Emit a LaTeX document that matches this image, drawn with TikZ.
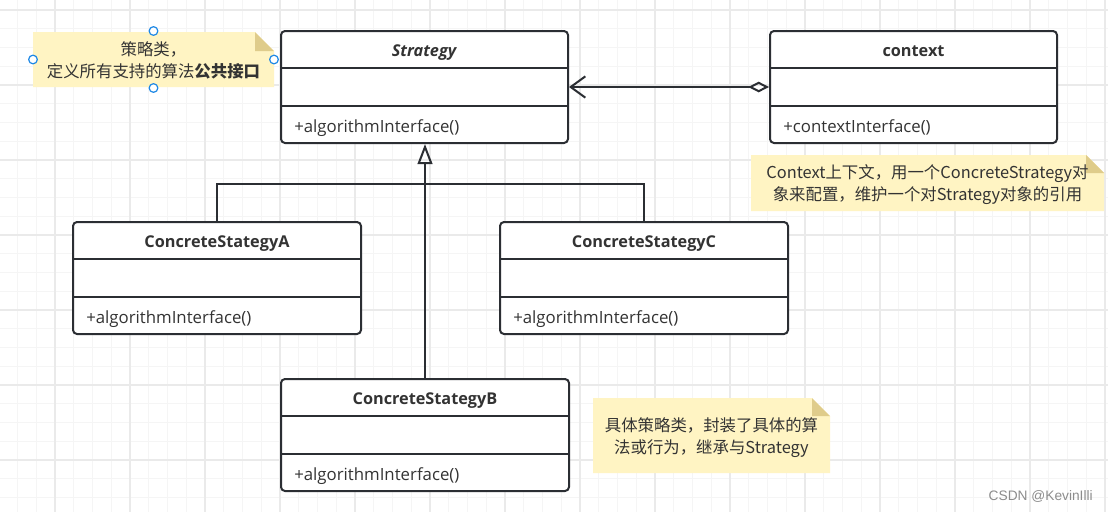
\documentclass[tikz,border=0pt]{standalone}
\usepackage{fontspec}
\setmainfont{Open Sans}
\newfontfamily\cjk{Noto Sans CJK SC}
\newfontfamily\wmfont{Liberation Sans}
\usetikzlibrary{arrows.meta,fit,calc}
\definecolor{ink}{HTML}{2B2E33}
\definecolor{txt}{HTML}{333333}
\definecolor{notefill}{HTML}{FFF4C3}
\definecolor{notefold}{HTML}{DFCC8B}
\definecolor{gridminor}{HTML}{F5F5F5}
\definecolor{gridmajor}{HTML}{EAEAEA}
\definecolor{handle}{HTML}{1E88E5}
\definecolor{wmgray}{HTML}{8C8C8C}
\tikzset{
  classbox/.style={draw=ink, line width=1.5pt, rounded corners=3pt, inner sep=0pt, fill=white},
  divider/.style={draw=ink, line width=1.5pt},
  classtitle/.style={font=\bfseries\fontsize{12.2}{14}\selectfont, text=txt, inner sep=0pt, anchor=base},
  method/.style={font=\fontsize{12.6}{14}\selectfont, text=txt, anchor=base west, inner sep=0pt},
  conn/.style={draw=ink, line width=1.5pt},
  notetext/.style={align=center, text=txt, font=\cjk\fontsize{12.3}{16}\selectfont, inner sep=0pt},
  handlec/.style={circle, draw=handle, fill=white, line width=0.9pt, minimum size=6.5pt, inner sep=0pt},
  minorline/.style={draw=gridminor, line width=0.75pt},
  majorline/.style={draw=gridmajor, line width=0.9pt},
}
% name, x1, y1, x2, title, method
\newcommand\umlclass[6]{%
  \node[classbox, fit={(#2,#3) (#4,#3+112)}] (#1) {};
  \draw[divider] ($(#1.north west)+(0,37.5)$) -- ($(#1.north east)+(0,37.5)$);
  \draw[divider] ($(#1.north west)+(0,75.5)$) -- ($(#1.north east)+(0,75.5)$);
  \node[classtitle] (#1-title) at ($(#1.north)+(0,26.5)$) {#5};
  \node[method] (#1-method) at ($(#1.north west)+(14,102)$) {#6};
}
% name, x1, y1, x2, y2, fold
\newcommand\umlnote[6]{%
  \fill[notefill] (#2,#3) -- (#4-#6,#3) -- (#4,#3+#6) -- (#4,#5) -- (#2,#5) -- cycle;
  \fill[notefold] (#4-#6,#3) -- (#4-#6,#3+#6) -- (#4,#3+#6) -- cycle;
  \node[fit={(#2,#3) (#4,#5)}, inner sep=0pt] (#1) {};
}
\begin{document}
\begin{tikzpicture}[x=0.75pt, y=-0.75pt]
\useasboundingbox (0,0) rectangle (1108,512);
\fill[white] (0,0) rectangle (1108,512);
% grid
\foreach \i in {0,...,59} \draw[minorline] ({-1.25+18.75*\i},0) -- ({-1.25+18.75*\i},512);
\foreach \i in {0,...,28} \draw[minorline] (0,{-8.75+18.75*\i}) -- (1108,{-8.75+18.75*\i});
\foreach \i in {-1,...,14} \draw[majorline] ({55+75*\i},0) -- ({55+75*\i},512);
\foreach \i in {0,...,6} \draw[majorline] (0,{10+75*\i}) -- (1108,{10+75*\i});

% notes
\umlnote{n1}{33}{32}{274}{87}{19}
\node[notetext] (n1t) at ($(n1)+(0,1)$) {策略类，\\定义所有支持的算法\textbf{公共接口}};
\node[handlec] (h1) at (153.5,31) {};
\node[handlec] (h2) at (33,59.5) {};
\node[handlec] (h3) at (153.5,88) {};
\node[handlec] (h4) at (274,59.5) {};

\umlnote{n2}{751}{155}{1104}{211}{18}
\node[notetext] (n2t) at ($(n2)+(0,1.5)$) {Context上下文，用一个ConcreteStrategy对\\象来配置，维护一个对Strategy对象的引用};

\umlnote{n3}{593}{398}{830}{473}{18}
\node[notetext] (n3t) at ($(n3)+(0,2)$) {具体策略类，封装了具体的算\\法或行为，继承与Strategy};

% classes
\umlclass{strategy}{281}{31}{568}{\textit{Strategy}}{+algorithmInterface()}
\umlclass{context}{770}{31}{1057}{context}{+contextInterface()}
\umlclass{A}{73}{222}{361}{ConcreteStategyA}{+algorithmInterface()}
\umlclass{C}{500}{222}{788}{ConcreteStategyC}{+algorithmInterface()}
\umlclass{B}{281}{379}{569}{ConcreteStategyB}{+algorithmInterface()}

% connectors
\coordinate (j) at ($(strategy.south)+(0.5,40)$);
\draw[conn] (A.north) |- (j);
\draw[conn] (C.north) |- (j);
\draw[conn, -{Triangle[open, length=15pt, width=11pt]}] (B.north) -- (B.north |- strategy.south);
\draw[conn, {Diamond[open, length=15.5pt, width=8pt]}-{Straight Barb[length=11pt, width=16pt]}] (context.west) -- (strategy.east);

% watermark
\node[anchor=east, font=\wmfont\fontsize{10.3}{12}\selectfont, text=wmgray, inner sep=0pt] (wm) at (1093,496) {CSDN @KevinIlli};
\end{tikzpicture}
\end{document}
